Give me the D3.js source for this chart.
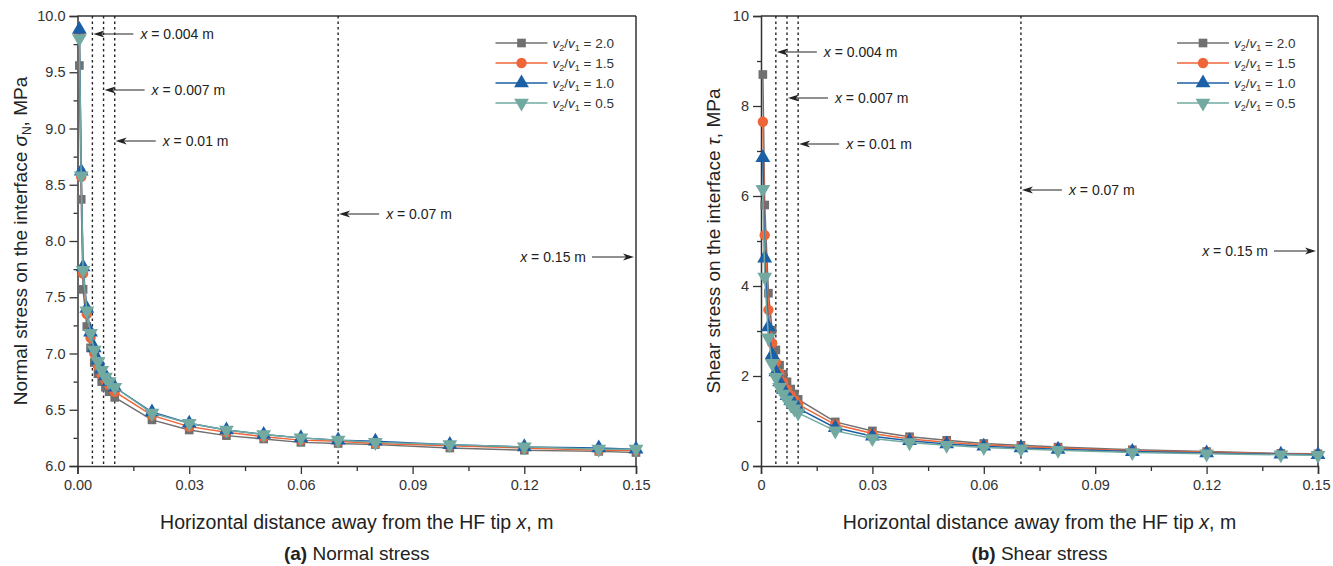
<!DOCTYPE html>
<html>
<head>
<meta charset="utf-8">
<script src="https://cdn.jsdelivr.net/npm/d3@7"></script>
<style>
  body { margin: 0; background: #fff; }
  svg { display: block; font-family: "Liberation Sans", Arial, sans-serif; }
</style>
</head>
<body>
<svg id="chart" width="1333" height="566"></svg>
<script>
// ---- data ----
var ratios = ["2.0", "1.5", "1.0", "0.5"];
var seriesColors = ["#707070", "#ee6538", "#1b5fa6", "#72aaa2"];
var seriesShapes = ["square", "circle", "triangle", "down"];

var xNormal = [0.0005, 0.001, 0.0015, 0.0025, 0.0035, 0.0045, 0.0055, 0.0065, 0.0075, 0.0085, 0.01,
  0.02, 0.03, 0.04, 0.05, 0.06, 0.07, 0.08, 0.10, 0.12, 0.14, 0.15];
var normal20 = [9.56, 8.37, 7.57, 7.24, 7.05, 6.92, 6.82, 6.75, 6.70, 6.66, 6.61, 6.41, 6.32, 6.27, 6.24, 6.21, 6.20, 6.19, 6.16, 6.14, 6.13, 6.12];
var normal15 = [9.84, 8.57, 7.71, 7.35, 7.14, 7.00, 6.89, 6.81, 6.76, 6.72, 6.66, 6.45, 6.35, 6.30, 6.26, 6.23, 6.22, 6.20, 6.18, 6.16, 6.14, 6.14];
var normal10 = [9.88, 8.62, 7.77, 7.40, 7.19, 7.05, 6.94, 6.86, 6.80, 6.75, 6.70, 6.48, 6.38, 6.32, 6.28, 6.25, 6.23, 6.22, 6.19, 6.17, 6.16, 6.15];
var normal05 = [9.80, 8.58, 7.74, 7.38, 7.18, 7.03, 6.93, 6.85, 6.79, 6.75, 6.70, 6.47, 6.38, 6.32, 6.28, 6.25, 6.23, 6.21, 6.19, 6.17, 6.15, 6.15];

var xShear = [0.0005, 0.001, 0.002, 0.003, 0.004, 0.005, 0.006, 0.007, 0.008, 0.009, 0.01,
  0.02, 0.03, 0.04, 0.05, 0.06, 0.07, 0.08, 0.10, 0.12, 0.14, 0.15];
var shear20 = [8.70, 5.80, 3.84, 3.02, 2.58, 2.24, 2.04, 1.87, 1.71, 1.60, 1.48, 0.98, 0.78, 0.65, 0.57, 0.50, 0.46, 0.42, 0.36, 0.32, 0.28, 0.27];
var shear15 = [7.65, 5.13, 3.47, 2.73, 2.31, 2.05, 1.86, 1.70, 1.57, 1.46, 1.37, 0.92, 0.72, 0.60, 0.53, 0.47, 0.43, 0.40, 0.34, 0.31, 0.27, 0.26];
var shear10 = [6.85, 4.62, 3.09, 2.47, 2.09, 1.87, 1.70, 1.56, 1.45, 1.36, 1.28, 0.85, 0.66, 0.56, 0.49, 0.44, 0.40, 0.37, 0.32, 0.29, 0.26, 0.25];
var shear05 = [6.15, 4.20, 2.85, 2.28, 1.97, 1.75, 1.60, 1.47, 1.36, 1.27, 1.18, 0.78, 0.61, 0.52, 0.46, 0.41, 0.38, 0.35, 0.30, 0.27, 0.25, 0.24];

var xTicks = [0, 0.03, 0.06, 0.09, 0.12, 0.15];
var normalTicks = [6.0, 6.5, 7.0, 7.5, 8.0, 8.5, 9.0, 9.5, 10.0];
var shearTicks = [0, 2, 4, 6, 8, 10];
var markLines = [0.004, 0.007, 0.01, 0.07];
var markLabels = ["0.004", "0.007", "0.01", "0.07", "0.15"];

var svg = d3.select("#chart");
var axisColor = "#333";

function symbolPath(shape) {
  if (shape == "square") return d3.symbol(d3.symbolSquare, 75)();
  if (shape == "circle") return d3.symbol(d3.symbolCircle, 85)();
  return d3.symbol(d3.symbolTriangle, 95)();
}

function drawPanel(opt) {
  var g = svg.append("g").attr("transform", "translate(" + opt.left + "," + opt.top + ")");
  var w = opt.width, h = opt.height;

  var x = d3.scaleLinear().domain([0, 0.15]).range([0, w]);
  var y = d3.scaleLinear().domain(opt.yDomain).range([h, 0]);

  // minor ticks
  g.append("g").attr("transform", "translate(0," + h + ")")
    .call(d3.axisBottom(x).tickValues(d3.range(0.015, 0.15, 0.03)).tickSize(5).tickFormat(""))
    .call(a => a.select(".domain").remove());
  g.append("g")
    .call(d3.axisLeft(y).tickValues(opt.yMinor).tickSize(4).tickFormat(""))
    .call(a => a.select(".domain").remove());

  var xAxis = g.append("g").attr("transform", "translate(0," + h + ")")
    .call(d3.axisBottom(x).tickValues(xTicks).tickSize(8).tickPadding(6).tickFormat(opt.xFormat));
  g.append("g")
    .call(d3.axisLeft(y).tickValues(opt.yTicks).tickSize(8).tickPadding(4).tickFormat(opt.yFormat));

  g.selectAll(".tick line").attr("stroke", axisColor).attr("stroke-width", 1.3);
  g.selectAll(".domain").attr("stroke", axisColor).attr("stroke-width", 1.5);
  g.selectAll(".tick text").attr("fill", axisColor).style("font-size", "14.5px")
    .style("font-family", "Liberation Sans, Arial, sans-serif");
  // keep the last x label inside the page
  xAxis.selectAll(".tick text").filter(d => d == 0.15).attr("dx", opt.lastDx);

  // frame top / right
  g.append("line").attr("x1", 0).attr("x2", w).attr("y1", 0).attr("y2", 0)
    .attr("stroke", axisColor).attr("stroke-width", 1.5);
  g.append("line").attr("x1", w).attr("x2", w).attr("y1", 0).attr("y2", h)
    .attr("stroke", axisColor).attr("stroke-width", 1.5);

  // dotted reference lines
  g.selectAll(".ref").data(markLines).enter().append("line")
    .attr("class", "ref")
    .attr("x1", d => x(d)).attr("x2", d => x(d))
    .attr("y1", 0).attr("y2", h)
    .attr("stroke", "#222").attr("stroke-width", 1.4)
    .attr("stroke-dasharray", "2.5 3");

  // series
  var line = d3.line().x(d => x(d.x)).y(d => y(d.y));
  opt.series.forEach(function(vals, i) {
    var pts = vals.map((v, k) => ({x: opt.xs[k], y: v}));
    g.append("path").datum(pts)
      .attr("fill", "none").attr("stroke", seriesColors[i]).attr("stroke-width", 1.5)
      .attr("d", line);
    g.selectAll(".m" + i).data(pts).enter().append("path")
      .attr("class", "m" + i)
      .attr("d", symbolPath(seriesShapes[i]))
      .attr("transform", d => "translate(" + x(d.x) + "," + y(d.y) + ")" + (seriesShapes[i] == "down" ? " rotate(180)" : ""))
      .attr("fill", seriesColors[i]);
  });

  // annotations
  markLabels.forEach(function(lab, i) {
    var ay = opt.notes[i];
    var isRight = i == 4;
    var tip = isRight ? w - 2 : x(markLines[i]) + 1;
    var tail = isRight ? tip - 42 : tip + 40;
    g.append("line").attr("x1", tail).attr("x2", isRight ? tip - 8 : tip + 8).attr("y1", ay).attr("y2", ay)
      .attr("stroke", "#222").attr("stroke-width", 1.2);
    var dir = isRight ? -1 : 1;
    g.append("path")
      .attr("d", "M" + tip + "," + ay + "L" + (tip + dir * 11) + "," + (ay - 3.5) + "L" + (tip + dir * 8) + "," + ay + "L" + (tip + dir * 11) + "," + (ay + 3.5) + "Z")
      .attr("fill", "#222");
    var t = g.append("text")
      .attr("x", isRight ? tail - 6 : tail + 7).attr("y", ay + 5)
      .attr("text-anchor", isRight ? "end" : "start")
      .attr("fill", "#222").style("font-size", "14px");
    t.append("tspan").attr("font-style", "italic").text("x");
    t.append("tspan").text(" = " + lab + " m");
  });

  // legend
  var lg = g.append("g").attr("transform", "translate(" + opt.legendX + "," + 27 + ")");
  ratios.forEach(function(r, i) {
    var row = lg.append("g").attr("transform", "translate(0," + (i * 20) + ")");
    row.append("line").attr("x1", 0).attr("x2", 52).attr("stroke", seriesColors[i]).attr("stroke-width", 1.5);
    row.append("path").attr("d", symbolPath(seriesShapes[i]))
      .attr("transform", "translate(26,0)" + (seriesShapes[i] == "down" ? " rotate(180)" : ""))
      .attr("fill", seriesColors[i]);
    var t = row.append("text").attr("x", 57).attr("y", 4.5).attr("fill", "#333").style("font-size", "13.5px");
    t.append("tspan").attr("font-style", "italic").text("v");
    t.append("tspan").attr("font-size", "9px").attr("dy", 3).text("2");
    t.append("tspan").attr("dy", -3).text("/");
    t.append("tspan").attr("font-style", "italic").text("v");
    t.append("tspan").attr("font-size", "9px").attr("dy", 3).text("1");
    t.append("tspan").attr("dy", -3).text(" = " + r);
  });

  // axis titles
  var xt = g.append("text").attr("x", w / 2).attr("y", h + 63).attr("text-anchor", "middle")
    .attr("fill", "#222").style("font-size", "19.5px");
  xt.append("tspan").text("Horizontal distance away from the HF tip ");
  xt.append("tspan").attr("font-style", "italic").text("x");
  xt.append("tspan").text(", m");

  var yt = g.append("text")
    .attr("transform", "translate(" + opt.yTitleX + "," + (h / 2) + ") rotate(-90)")
    .attr("text-anchor", "middle").attr("fill", "#222").style("font-size", "19px");
  opt.yTitle(yt);

  var cap = g.append("text").attr("x", w / 2).attr("y", h + 94).attr("text-anchor", "middle")
    .attr("fill", "#222").style("font-size", "19px");
  cap.append("tspan").attr("font-weight", "bold").text(opt.capTag);
  cap.append("tspan").text(" " + opt.caption);
}

drawPanel({
  left: 77.5, top: 16, width: 558.5, height: 450,
  yDomain: [6, 10], yTicks: normalTicks, yMinor: d3.range(6.25, 10, 0.5),
  xFormat: d3.format(".2f"), yFormat: d3.format(".1f"), lastDx: 0,
  xs: xNormal, series: [normal20, normal15, normal10, normal05],
  notes: [18, 74, 125, 198, 241],
  legendX: 418, yTitleX: -51,
  yTitle: function(t) {
    t.append("tspan").text("Normal stress on the interface ");
    t.append("tspan").attr("font-style", "italic").text("σ");
    t.append("tspan").attr("font-size", "12px").attr("dy", 4).text("N");
    t.append("tspan").attr("dy", -4).text(", MPa");
  },
  capTag: "(a)", caption: "Normal stress"
});

drawPanel({
  left: 761, top: 16, width: 557, height: 450,
  yDomain: [0, 10], yTicks: shearTicks, yMinor: d3.range(1, 10, 2),
  xFormat: d => d == 0 ? "0" : d3.format(".2f")(d), yFormat: d3.format("d"), lastDx: -2,
  xs: xShear, series: [shear20, shear15, shear10, shear05],
  notes: [36, 82, 128, 174, 235],
  legendX: 416, yTitleX: -41,
  yTitle: function(t) {
    t.append("tspan").text("Shear stress on the interface ");
    t.append("tspan").attr("font-style", "italic").text("τ");
    t.append("tspan").text(", MPa");
  },
  capTag: "(b)", caption: "Shear stress"
});
</script>
</body>
</html>
